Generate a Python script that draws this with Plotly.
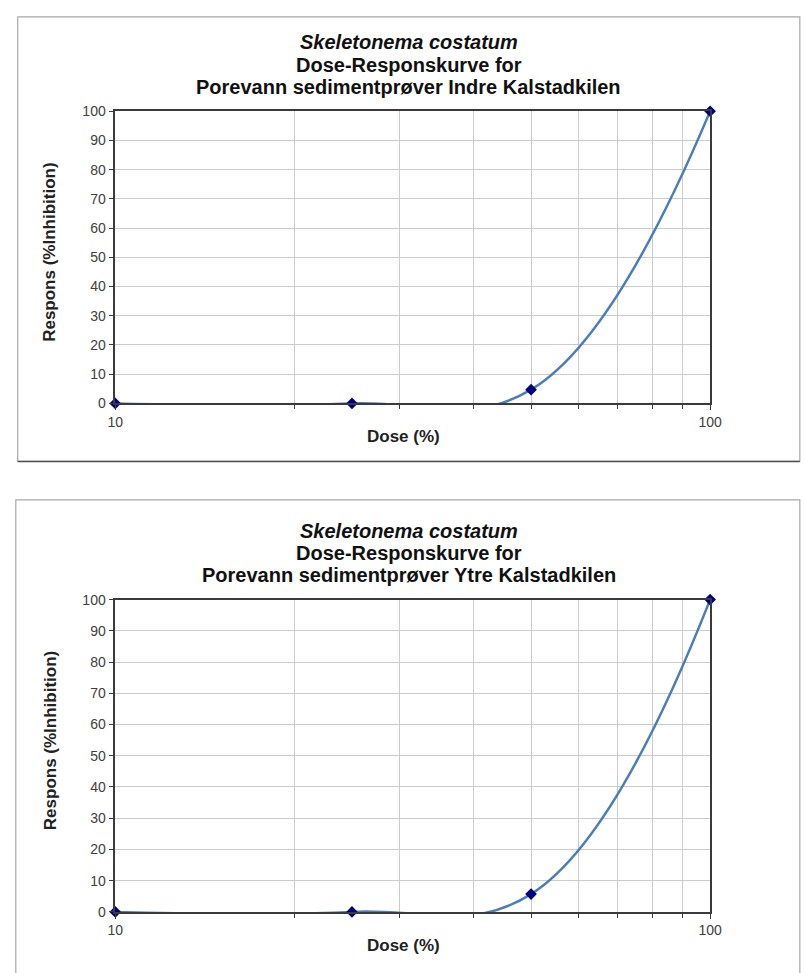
import plotly.graph_objects as go

# Dose (%) tested and measured inhibition (%) for each sediment pore-water sample
dose = [10, 25, 50, 100]
respons_indre = [0, 0, 4.7, 100]
respons_ytre = [0, 0, 5.7, 100]

species = "Skeletonema costatum"
subtitle = "Dose-Responskurve for"
sample_titles = [
    "Porevann sedimentprøver Indre Kalstadkilen",
    "Porevann sedimentprøver Ytre Kalstadkilen",
]
y_ticks = list(range(0, 101, 10))
x_major = [10, 100]
x_minor = [20, 30, 40, 50, 60, 70, 80, 90]

W, H = 805, 973
FONT = "Liberation Sans, Arial, sans-serif"
LINE_BLUE = "#4a7ebb"
MARKER_NAVY = "#000080"
GRID = "#cbcbcb"
AXIS = "#3a3a3a"
TICKFONT = dict(family=FONT, size=14, color="#404040")


def px_x(v):
    return v / W


def px_y(v):
    return 1 - v / H


# pixel geometry of the two panels (plot-area top / bottom in px)
panels = [
    dict(top=105, bottom=402, box=(10, 9, 812, 461), data=respons_indre),
    dict(top=601.5, bottom=919, box=(8, 500, 812, 985), data=respons_ytre),
]
plot_left, plot_right = 110, 720

fig = go.Figure()
annotations = []
shapes = []

for i, p in enumerate(panels):
    n = "" if i == 0 else str(i + 1)
    xa, ya = "x" + n, "y" + n

    # smoothed curve through the observations (clipped to the plot area)
    fig.add_trace(go.Scatter(
        x=dose, y=p["data"], mode="lines", xaxis=xa, yaxis=ya,
        line=dict(color=LINE_BLUE, width=2.5, shape="spline", smoothing=1.15),
        cliponaxis=True, showlegend=False, hoverinfo="skip",
    ))
    # observations
    fig.add_trace(go.Scatter(
        x=dose, y=p["data"], mode="markers", xaxis=xa, yaxis=ya,
        marker=dict(symbol="diamond", size=9, color=MARKER_NAVY),
        cliponaxis=False, showlegend=False,
    ))

    fig.update_layout(**{
        "xaxis" + n: dict(
            type="log", range=[1, 2], domain=[px_x(plot_left), px_x(plot_right)],
            anchor=ya, tickvals=x_major, ticktext=[str(v) for v in x_major],
            ticks="outside", ticklen=5, tickcolor=AXIS, tickfont=TICKFONT,
            showgrid=False, showline=True, linecolor=AXIS, linewidth=1.5,
            mirror=True, zeroline=False,
            minor=dict(tickvals=x_minor, ticks="outside", ticklen=4,
                       tickcolor=AXIS, showgrid=True, gridcolor=GRID, gridwidth=1),
        ),
        "yaxis" + n: dict(
            range=[0, 100], domain=[px_y(p["bottom"]), px_y(p["top"])],
            anchor=xa, tickvals=y_ticks, ticks="outside", ticklen=5,
            tickcolor=AXIS, tickfont=TICKFONT, showgrid=True, gridcolor=GRID,
            gridwidth=1, showline=True, linecolor=AXIS, linewidth=1.5,
            mirror=True, zeroline=False,
        ),
    })

    # three-line chart title
    off = p["top"] - 105
    for text, y in [("<i>" + species + "</i>", 35), (subtitle, 57.5), (sample_titles[i], 80)]:
        annotations.append(dict(
            text="<b>" + text + "</b>", x=px_x(411), y=px_y(y + off),
            xref="paper", yref="paper", xanchor="center", yanchor="middle",
            showarrow=False, font=dict(family=FONT, size=20, color="#111111"),
        ))
    # axis titles
    annotations.append(dict(
        text="<b>Dose (%)</b>", x=px_x(406), y=px_y(p["bottom"] + 34),
        xref="paper", yref="paper", xanchor="center", yanchor="middle",
        showarrow=False, font=dict(family=FONT, size=17, color="#222222"),
    ))
    annotations.append(dict(
        text="<b>Respons (%Inhibition)</b>", x=px_x(43), y=px_y(248 + off),
        textangle=-90, xref="paper", yref="paper",
        xanchor="center", yanchor="middle",
        showarrow=False, font=dict(family=FONT, size=17, color="#222222"),
    ))

    # chart frame
    x0, y0, x1, y1 = p["box"]
    shapes.append(dict(
        type="rect", xref="paper", yref="paper", layer="below",
        x0=px_x(x0), x1=px_x(x1), y0=px_y(y0), y1=px_y(y1),
        line=dict(color="#a8a8a8", width=1.2), fillcolor="rgba(0,0,0,0)",
    ))
    if i == 0:
        shapes.append(dict(
            type="line", xref="paper", yref="paper",
            x0=px_x(x0), x1=px_x(x1), y0=px_y(y1), y1=px_y(y1),
            line=dict(color="#505050", width=1.5),
        ))

fig.update_layout(
    width=W, height=H, margin=dict(l=0, r=0, t=0, b=0),
    paper_bgcolor="white", plot_bgcolor="white",
    annotations=annotations, shapes=shapes, showlegend=False,
    font=dict(family=FONT),
)

fig.write_html("out.html")
